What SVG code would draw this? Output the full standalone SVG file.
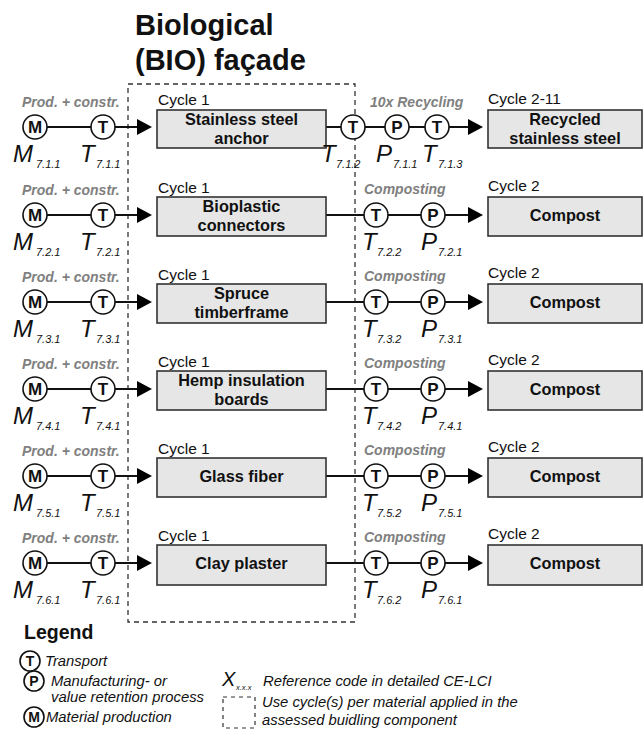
<svg xmlns="http://www.w3.org/2000/svg" width="643" height="731" viewBox="0 0 643 731">
<defs>
<style>
text{font-family:"Liberation Sans",Arial,sans-serif;fill:#111}
.title{font-size:29px;font-weight:bold}
.cyc{font-size:15.5px}
.box{fill:#e6e6e6;stroke:#333;stroke-width:1.6}
.bt{font-size:16.3px;font-weight:bold;text-anchor:middle}
.grey{font-size:14px;font-weight:bold;font-style:italic;fill:#808080}
.circ{fill:#fff;stroke:#111;stroke-width:1.6}
.cl{font-size:17px;font-weight:bold;text-anchor:middle}
.lab{font-size:24px;font-style:italic}
.sub{font-size:11px;font-style:italic}
.ln{stroke:#111;stroke-width:2;fill:none}
.dash{fill:none;stroke:#333;stroke-width:1.3;stroke-dasharray:5,4}
.leg{font-size:14.8px;font-style:italic}
.lc{font-size:14px;font-weight:bold;text-anchor:middle}
</style>
</defs>
<rect width="643" height="731" fill="#fff"/>
<g id="title">
<text class="title" x="135" y="35">Biological</text>
<text class="title" x="135" y="70">(BIO) façade</text>
</g>
<rect id="use-cycle-box" class="dash" x="128" y="84" width="227" height="538"/>

<g id="connectors">
<path class="ln" d="M47,127H91M115,127H138M326,127H341M365,127H385M409,127H425M449,127H469"/>
<polygon points="137,119 152,127 137,135"/><polygon points="468,119 483,127 468,135"/>
<path class="ln" d="M47,215H91M115,215H138M326,215H364M388,215H421M445,215H469"/>
<polygon points="137,207 152,215 137,223"/><polygon points="468,207 483,215 468,223"/>
<path class="ln" d="M47,302H91M115,302H138M326,302H364M388,302H421M445,302H469"/>
<polygon points="137,294 152,302 137,310"/><polygon points="468,294 483,302 468,310"/>
<path class="ln" d="M47,389H91M115,389H138M326,389H364M388,389H421M445,389H469"/>
<polygon points="137,381 152,389 137,397"/><polygon points="468,381 483,389 468,397"/>
<path class="ln" d="M47,476H91M115,476H138M326,476H364M388,476H421M445,476H469"/>
<polygon points="137,468 152,476 137,484"/><polygon points="468,468 483,476 468,484"/>
<path class="ln" d="M47,563H91M115,563H138M326,563H364M388,563H421M445,563H469"/>
<polygon points="137,555 152,563 137,571"/><polygon points="468,555 483,563 468,571"/>
</g>

<!-- Row 1 -->
<g id="row1-prod"><text class="grey" x="22" y="107">Prod. + constr.</text></g>
<g id="M711"><circle class="circ" cx="35" cy="127" r="12"/><text class="cl" x="35" y="133">M</text>
<text class="lab" x="13" y="162">M</text><text class="sub" x="36" y="168">7.1.1</text></g>
<g id="T711"><circle class="circ" cx="103" cy="127" r="12"/><text class="cl" x="103" y="133">T</text>
<text class="lab" x="80" y="162">T</text><text class="sub" x="96" y="168">7.1.1</text></g>
<g id="stainless-steel-anchor"><text class="cyc" x="158" y="105">Cycle 1</text>
<rect class="box" x="157" y="110" width="169" height="38"/>
<text class="bt" x="241.5" y="125">Stainless steel</text><text class="bt" x="241.5" y="144">anchor</text></g>
<g id="row1-recycling"><text class="grey" x="370" y="107">10x Recycling</text></g>
<g id="T712"><circle class="circ" cx="353" cy="127" r="12"/><text class="cl" x="353" y="133">T</text>
<text class="lab" x="321" y="162">T</text><text class="sub" x="336" y="168">7.1.2</text></g>
<g id="P711"><circle class="circ" cx="397" cy="127" r="12"/><text class="cl" x="397" y="133">P</text>
<text class="lab" x="376" y="162">P</text><text class="sub" x="393" y="168">7.1.1</text></g>
<g id="T713"><circle class="circ" cx="437" cy="127" r="12"/><text class="cl" x="437" y="133">T</text>
<text class="lab" x="422" y="162">T</text><text class="sub" x="438" y="168">7.1.3</text></g>
<g id="recycled-stainless-steel"><text class="cyc" x="488" y="104">Cycle 2-11</text>
<rect class="box" x="488" y="110" width="154" height="38"/>
<text class="bt" x="565" y="125">Recycled</text><text class="bt" x="565" y="144">stainless steel</text></g>

<!-- Row 2 -->
<g id="row2-prod"><text class="grey" x="22" y="195">Prod. + constr.</text></g>
<g id="M721"><circle class="circ" cx="35" cy="215" r="12"/><text class="cl" x="35" y="221">M</text>
<text class="lab" x="13" y="250">M</text><text class="sub" x="36" y="256">7.2.1</text></g>
<g id="T721"><circle class="circ" cx="103" cy="215" r="12"/><text class="cl" x="103" y="221">T</text>
<text class="lab" x="80" y="250">T</text><text class="sub" x="96" y="256">7.2.1</text></g>
<g id="bioplastic-connectors"><text class="cyc" x="158" y="193">Cycle 1</text>
<rect class="box" x="157" y="197" width="169" height="39"/>
<text class="bt" x="241.5" y="212">Bioplastic</text><text class="bt" x="241.5" y="231">connectors</text></g>
<g id="row2-comp"><text class="grey" x="364" y="194">Composting</text></g>
<g id="T722"><circle class="circ" cx="376" cy="215" r="12"/><text class="cl" x="376" y="221">T</text>
<text class="lab" x="362" y="250">T</text><text class="sub" x="377" y="256">7.2.2</text></g>
<g id="P721"><circle class="circ" cx="433" cy="215" r="12"/><text class="cl" x="433" y="221">P</text>
<text class="lab" x="421" y="250">P</text><text class="sub" x="438" y="256">7.2.1</text></g>
<g id="compost2"><text class="cyc" x="488" y="191">Cycle 2</text>
<rect class="box" x="488" y="197" width="154" height="39"/>
<text class="bt" x="565" y="221">Compost</text></g>

<!-- Row 3 -->
<g id="row3-prod"><text class="grey" x="22" y="282">Prod. + constr.</text></g>
<g id="M731"><circle class="circ" cx="35" cy="302" r="12"/><text class="cl" x="35" y="308">M</text>
<text class="lab" x="13" y="337">M</text><text class="sub" x="36" y="343">7.3.1</text></g>
<g id="T731"><circle class="circ" cx="103" cy="302" r="12"/><text class="cl" x="103" y="308">T</text>
<text class="lab" x="80" y="337">T</text><text class="sub" x="96" y="343">7.3.1</text></g>
<g id="spruce-timberframe"><text class="cyc" x="158" y="280">Cycle 1</text>
<rect class="box" x="157" y="284" width="169" height="39"/>
<text class="bt" x="241.5" y="299">Spruce</text><text class="bt" x="241.5" y="318">timberframe</text></g>
<g id="row3-comp"><text class="grey" x="364" y="281">Composting</text></g>
<g id="T732"><circle class="circ" cx="376" cy="302" r="12"/><text class="cl" x="376" y="308">T</text>
<text class="lab" x="362" y="337">T</text><text class="sub" x="377" y="343">7.3.2</text></g>
<g id="P731"><circle class="circ" cx="433" cy="302" r="12"/><text class="cl" x="433" y="308">P</text>
<text class="lab" x="421" y="337">P</text><text class="sub" x="438" y="343">7.3.1</text></g>
<g id="compost3"><text class="cyc" x="488" y="278">Cycle 2</text>
<rect class="box" x="488" y="284" width="154" height="39"/>
<text class="bt" x="565" y="308">Compost</text></g>

<!-- Row 4 -->
<g id="row4-prod"><text class="grey" x="22" y="369">Prod. + constr.</text></g>
<g id="M741"><circle class="circ" cx="35" cy="389" r="12"/><text class="cl" x="35" y="395">M</text>
<text class="lab" x="13" y="424">M</text><text class="sub" x="36" y="430">7.4.1</text></g>
<g id="T741"><circle class="circ" cx="103" cy="389" r="12"/><text class="cl" x="103" y="395">T</text>
<text class="lab" x="80" y="424">T</text><text class="sub" x="96" y="430">7.4.1</text></g>
<g id="hemp-insulation-boards"><text class="cyc" x="158" y="367">Cycle 1</text>
<rect class="box" x="157" y="371" width="169" height="39"/>
<text class="bt" x="241.5" y="386">Hemp insulation</text><text class="bt" x="241.5" y="405">boards</text></g>
<g id="row4-comp"><text class="grey" x="364" y="368">Composting</text></g>
<g id="T742"><circle class="circ" cx="376" cy="389" r="12"/><text class="cl" x="376" y="395">T</text>
<text class="lab" x="362" y="424">T</text><text class="sub" x="377" y="430">7.4.2</text></g>
<g id="P741"><circle class="circ" cx="433" cy="389" r="12"/><text class="cl" x="433" y="395">P</text>
<text class="lab" x="421" y="424">P</text><text class="sub" x="438" y="430">7.4.1</text></g>
<g id="compost4"><text class="cyc" x="488" y="365">Cycle 2</text>
<rect class="box" x="488" y="371" width="154" height="39"/>
<text class="bt" x="565" y="395">Compost</text></g>

<!-- Row 5 -->
<g id="row5-prod"><text class="grey" x="22" y="456">Prod. + constr.</text></g>
<g id="M751"><circle class="circ" cx="35" cy="476" r="12"/><text class="cl" x="35" y="482">M</text>
<text class="lab" x="13" y="511">M</text><text class="sub" x="36" y="517">7.5.1</text></g>
<g id="T751"><circle class="circ" cx="103" cy="476" r="12"/><text class="cl" x="103" y="482">T</text>
<text class="lab" x="80" y="511">T</text><text class="sub" x="96" y="517">7.5.1</text></g>
<g id="glass-fiber"><text class="cyc" x="158" y="454">Cycle 1</text>
<rect class="box" x="157" y="458" width="169" height="39"/>
<text class="bt" x="241.5" y="482">Glass fiber</text></g>
<g id="row5-comp"><text class="grey" x="364" y="455">Composting</text></g>
<g id="T752"><circle class="circ" cx="376" cy="476" r="12"/><text class="cl" x="376" y="482">T</text>
<text class="lab" x="362" y="511">T</text><text class="sub" x="377" y="517">7.5.2</text></g>
<g id="P751"><circle class="circ" cx="433" cy="476" r="12"/><text class="cl" x="433" y="482">P</text>
<text class="lab" x="421" y="511">P</text><text class="sub" x="438" y="517">7.5.1</text></g>
<g id="compost5"><text class="cyc" x="488" y="452">Cycle 2</text>
<rect class="box" x="488" y="458" width="154" height="39"/>
<text class="bt" x="565" y="482">Compost</text></g>

<!-- Row 6 -->
<g id="row6-prod"><text class="grey" x="22" y="543">Prod. + constr.</text></g>
<g id="M761"><circle class="circ" cx="35" cy="563" r="12"/><text class="cl" x="35" y="569">M</text>
<text class="lab" x="13" y="598">M</text><text class="sub" x="36" y="604">7.6.1</text></g>
<g id="T761"><circle class="circ" cx="103" cy="563" r="12"/><text class="cl" x="103" y="569">T</text>
<text class="lab" x="80" y="598">T</text><text class="sub" x="96" y="604">7.6.1</text></g>
<g id="clay-plaster"><text class="cyc" x="158" y="541">Cycle 1</text>
<rect class="box" x="157" y="545" width="169" height="40"/>
<text class="bt" x="241.5" y="569">Clay plaster</text></g>
<g id="row6-comp"><text class="grey" x="364" y="542">Composting</text></g>
<g id="T762"><circle class="circ" cx="376" cy="563" r="12"/><text class="cl" x="376" y="569">T</text>
<text class="lab" x="362" y="598">T</text><text class="sub" x="377" y="604">7.6.2</text></g>
<g id="P761"><circle class="circ" cx="433" cy="563" r="12"/><text class="cl" x="433" y="569">P</text>
<text class="lab" x="421" y="598">P</text><text class="sub" x="438" y="604">7.6.1</text></g>
<g id="compost6"><text class="cyc" x="488" y="539">Cycle 2</text>
<rect class="box" x="488" y="545" width="154" height="40"/>
<text class="bt" x="565" y="569">Compost</text></g>

<!-- Legend -->
<g id="legend">
<text x="24" y="639" style="font-size:19.5px;font-weight:bold">Legend</text>
<circle class="circ" cx="30" cy="661" r="10"/><text class="lc" x="30" y="666">T</text>
<text class="leg" x="45" y="666">Transport</text>
<circle class="circ" cx="34" cy="681" r="10"/><text class="lc" x="34" y="686">P</text>
<text class="leg" x="51" y="686">Manufacturing- or</text>
<text class="leg" x="51" y="702">value retention process</text>
<circle class="circ" cx="34" cy="717" r="10"/><text class="lc" x="34" y="722">M</text>
<text class="leg" x="46" y="722">Material production</text>
<text x="222" y="686" style="font-size:20px;font-style:italic">X</text>
<text x="236" y="690" style="font-size:7.5px;font-style:italic">x.x.x</text>
<text class="leg" x="263" y="686">Reference code in detailed CE-LCI</text>
<rect x="223" y="697" width="32" height="31" style="fill:none;stroke:#333;stroke-width:1.2;stroke-dasharray:4,4"/>
<text class="leg" x="262" y="707">Use cycle(s) per material applied in the</text>
<text class="leg" x="262" y="725">assessed buidling component</text>
</g>
</svg>
